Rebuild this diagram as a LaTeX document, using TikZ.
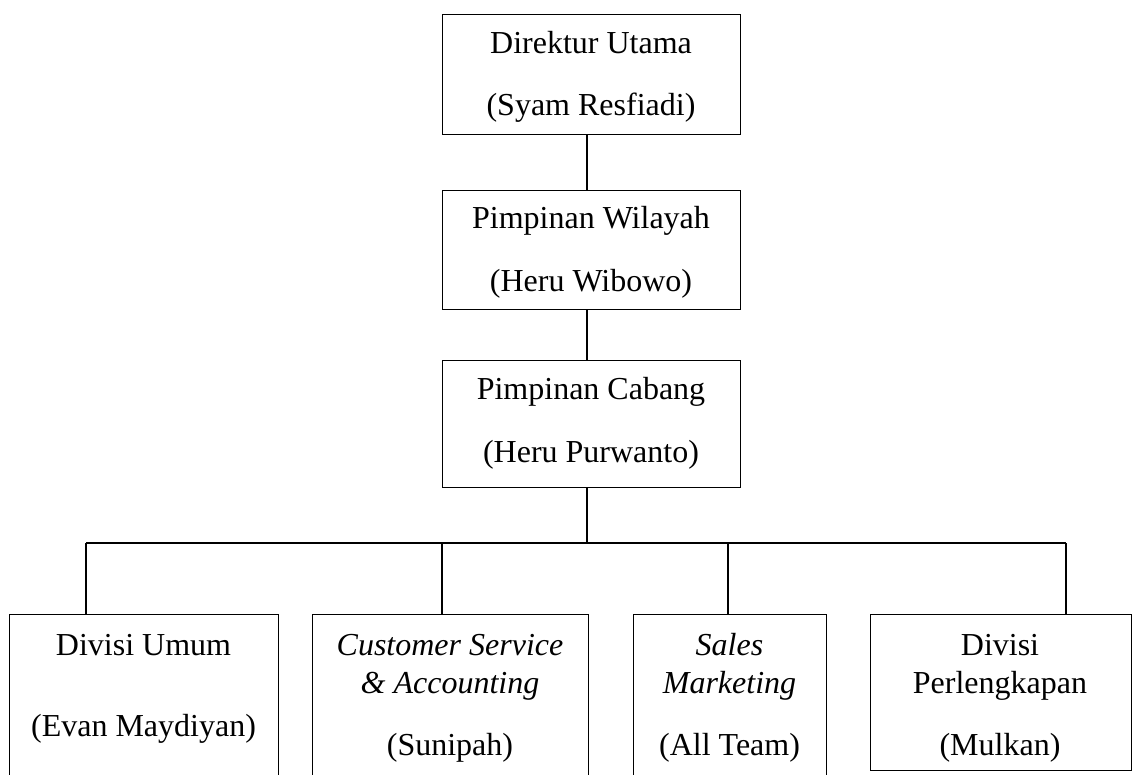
\documentclass[tikz,border=0pt]{standalone}
\usepackage{fontspec}
\setmainfont{Liberation Serif}
\begin{document}
\begin{tikzpicture}[x=1pt,y=-1pt,
  box/.style={draw, line width=1.3pt, rectangle, inner sep=0pt, anchor=north west},
  lbl/.style={font=\fontsize{32}{38}\selectfont, inner sep=0pt, anchor=base},
  conn/.style={line width=1.3pt}]
\useasboundingbox (0,0) rectangle (1134,775);
\clip (0,0) rectangle (1134,775);
% boxes
\node[box, minimum width=298pt, minimum height=120pt] (b1) at (442,14) {};
\node[box, minimum width=298pt, minimum height=119pt] (b2) at (442,190) {};
\node[box, minimum width=298pt, minimum height=127pt] (b3) at (442,360) {};
\node[box, minimum width=269pt, minimum height=200pt] (d1) at (9,614) {};
\node[box, minimum width=276pt, minimum height=200pt] (d2) at (312,614) {};
\node[box, minimum width=193pt, minimum height=200pt] (d3) at (633,614) {};
\node[box, minimum width=261pt, minimum height=156pt] (d4) at (870,614) {};
% texts
\node[lbl] (t1a) at (591,54) {Direktur Utama};
\node[lbl] (t1b) at (591,116) {(Syam Resfiadi)};
\node[lbl] (t2a) at (591,229) {Pimpinan Wilayah};
\node[lbl] (t2b) at (591,291) {(Heru Wibowo)};
\node[lbl] (t3a) at (591,399) {Pimpinan Cabang};
\node[lbl] (t3b) at (591,462) {(Heru Purwanto)};
\node[lbl] (u1a) at (143.5,655) {Divisi Umum};
\node[lbl] (u1b) at (143.5,736) {(Evan Maydiyan)};
\node[lbl] (u2a) at (450,655) {\itshape Customer Service};
\node[lbl] (u2b) at (450,693) {\itshape \& Accounting};
\node[lbl] (u2c) at (450,755) {(Sunipah)};
\node[lbl] (u3a) at (729.5,655) {\itshape Sales};
\node[lbl] (u3b) at (729.5,693) {\itshape Marketing};
\node[lbl] (u3c) at (729.5,755) {(All Team)};
\node[lbl] (u4a) at (1000,655) {Divisi};
\node[lbl] (u4b) at (1000,693) {Perlengkapan};
\node[lbl] (u4c) at (1000,755) {(Mulkan)};
% connectors
\coordinate (spine) at (587,0);
\coordinate (c1) at (86,543);
\coordinate (c2) at (442,543);
\coordinate (c3) at (728,543);
\coordinate (c4) at (1066,543);
\draw[conn] (b1.south -| spine) -- (b2.north -| spine);
\draw[conn] (b2.south -| spine) -- (b3.north -| spine);
\draw[conn] (b3.south -| spine) -- (spine |- c1);
\draw[conn] (c1) -- (c4);
\draw[conn] (c1) -- (c1 |- d1.north);
\draw[conn] (c2) -- (c2 |- d2.north);
\draw[conn] (c3) -- (c3 |- d3.north);
\draw[conn] (c4) -- (c4 |- d4.north);
\end{tikzpicture}
\end{document}
